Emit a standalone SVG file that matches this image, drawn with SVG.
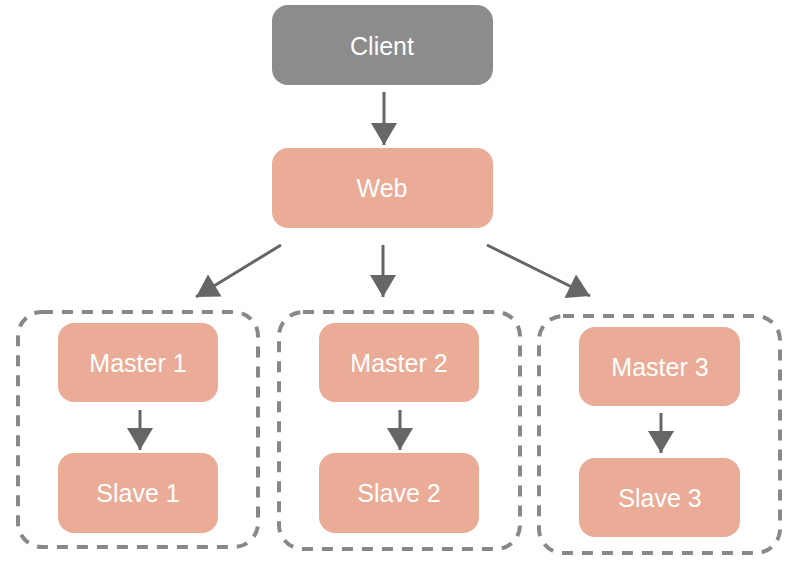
<svg xmlns="http://www.w3.org/2000/svg" width="801" height="569" viewBox="0 0 801 569">
<style>
.node{fill:#eaab97}
.client{fill:#8c8c8c}
.lbl{font-family:"Liberation Sans",Arial,sans-serif;font-size:25px;fill:#ffffff;text-anchor:middle;dominant-baseline:central}
.grp{fill:none;stroke:#888888;stroke-width:4;stroke-dasharray:11 9}
.conn{stroke:#666666;stroke-width:3;fill:none;marker-end:url(#ah)}
</style>
<defs>
<marker id="ah" markerUnits="userSpaceOnUse" markerWidth="28" markerHeight="28" viewBox="0 0 28 28" refX="24" refY="14" orient="auto">
<path d="M2,1 L24,14 L2,27 Z" fill="#666666"/>
</marker>
</defs>
<g id="group1"><rect class="grp" x="18" y="312" width="240" height="235" rx="24"/></g>
<g id="group2"><rect class="grp" x="279" y="312" width="241" height="237" rx="24"/></g>
<g id="group3"><rect class="grp" x="539" y="316" width="241" height="237" rx="24"/></g>
<g id="client"><rect class="client" x="272" y="5" width="221" height="80" rx="16"/><text class="lbl" x="382" y="46">Client</text></g>
<g id="web"><rect class="node" x="272" y="148" width="221" height="80" rx="16"/><text class="lbl" x="382" y="188">Web</text></g>
<g id="master1"><rect class="node" x="58" y="323" width="160" height="79" rx="16"/><text class="lbl" x="138" y="363">Master 1</text></g>
<g id="slave1"><rect class="node" x="58" y="453" width="160" height="80" rx="16"/><text class="lbl" x="138" y="493">Slave 1</text></g>
<g id="master2"><rect class="node" x="319" y="323" width="160" height="79" rx="16"/><text class="lbl" x="399" y="363">Master 2</text></g>
<g id="slave2"><rect class="node" x="319" y="453" width="160" height="80" rx="16"/><text class="lbl" x="399" y="493">Slave 2</text></g>
<g id="master3"><rect class="node" x="579" y="327" width="161" height="79" rx="16"/><text class="lbl" x="660" y="367">Master 3</text></g>
<g id="slave3"><rect class="node" x="579" y="458" width="161" height="79" rx="16"/><text class="lbl" x="660" y="498">Slave 3</text></g>
<g id="connectors">
<line class="conn" x1="384" y1="92" x2="384" y2="145"/>
<line class="conn" x1="281" y1="245" x2="196" y2="297"/>
<line class="conn" x1="383" y1="245" x2="383" y2="297"/>
<line class="conn" x1="487" y1="245" x2="590" y2="296"/>
<line class="conn" x1="140" y1="410" x2="140" y2="450"/>
<line class="conn" x1="400" y1="410" x2="400" y2="450"/>
<line class="conn" x1="661" y1="413" x2="661" y2="453"/>
</g>
</svg>
